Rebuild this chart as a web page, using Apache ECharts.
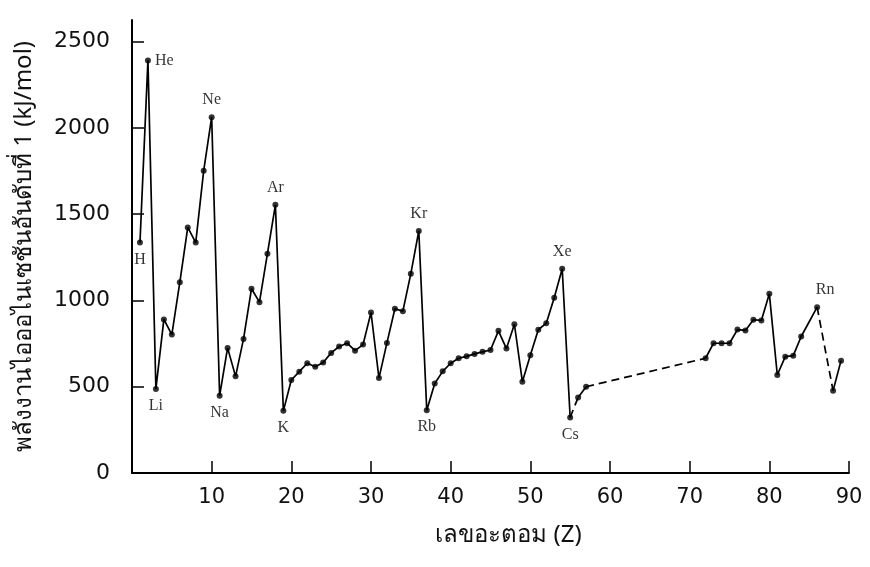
<!DOCTYPE html>
<html>
<head>
<meta charset="utf-8">
<script src="https://cdn.jsdelivr.net/npm/echarts@6/dist/echarts.min.js"></script>
<style>
html,body{margin:0;padding:0;background:#fff;}
#chart{width:870px;height:567px;}
</style>
</head>
<body>
<div id="chart"></div>
<script>
// Atomic numbers and first ionization energies (kJ/mol)
const atomicNumber = [1,2,3,4,5,6,7,8,9,10,11,12,13,14,15,16,17,18,19,20,
  21,22,23,24,25,26,27,28,29,30,31,32,33,34,35,36,37,38,39,40,
  41,42,43,44,45,46,47,48,49,50,51,52,53,54,55,56,57,
  72,73,74,75,76,77,78,79,80,81,82,83,84,86,88,89];
const ionizationEnergy = [1335,2391,487,890,802,1105,1423,1335,1752,2062,448,725,560,777,1068,990,1271,1554,360,539,
  587,636,616,640,696,733,752,709,744,930,550,754,952,938,1155,1403,364,519,589,636,
  665,676,690,702,713,824,721,862,529,682,830,868,1016,1184,322,438,500,
  665,752,752,752,831,826,888,884,1039,568,674,680,791,961,477,651];
// Links drawn dashed (start Z -> next point)
const dashedFrom = [55, 57, 86];
// Element names written on the chart
const peakNames = ['He','Ne','Ar','Kr','Xe','Rn'];
const peakZ = [2,10,18,36,54,86];
const troughNames = ['H','Li','Na','K','Rb','Cs'];
const troughZ = [1,3,11,19,37,55];
const xTicks = [10,20,30,40,50,60,70,80,90];
const yTicks = [0,500,1000,1500,2000,2500];

const pts = atomicNumber.map((z,i)=>[z, ionizationEnergy[i]]);
const solidSegs = [], dashSegs = [];
let cur = [pts[0]];
for (let i=1;i<pts.length;i++){
  const prevZ = pts[i-1][0];
  if (dashedFrom.includes(prevZ)) {
    solidSegs.push(cur);
    dashSegs.push([pts[i-1], pts[i]]);
    cur = [pts[i]];
  } else cur.push(pts[i]);
}
solidSegs.push(cur);

const INK = '#000';
const lineSeries = [];
solidSegs.forEach(seg=>{ if(seg.length>1) lineSeries.push({type:'line', data:seg, showSymbol:false, silent:true,
  lineStyle:{color:INK,width:1.7}, animation:false}); });
dashSegs.forEach(seg=>lineSeries.push({type:'line', data:seg, showSymbol:false, silent:true,
  lineStyle:{color:INK,width:1.7,type:[8,5]}, animation:false}));

const labelFont = {fontFamily:'"Liberation Serif", serif', fontSize:16, color:'#000'};
const dotData = pts.map(p=>{
  const z = p[0];
  const pi = peakZ.indexOf(z), ti = troughZ.indexOf(z);
  if (pi>=0) {
    return {value:p, label:Object.assign({show:true, formatter:peakNames[pi],
      position: z===2 ? 'right' : 'top', distance: z===2?4:6,
      offset: z===86 ? [8,0] : [0,0]}, labelFont)};
  }
  if (ti>=0) {
    return {value:p, label:Object.assign({show:true, formatter:troughNames[ti], position:'bottom', distance:6}, labelFont)};
  }
  return {value:p};
});

const chart = echarts.init(document.getElementById('chart'), null, {renderer:'canvas'});
chart.setOption({
  animation:false,
  backgroundColor:'#fff',
  grid:{left:132, right:21, top:20, bottom:94, containLabel:false},
  xAxis:{type:'value', min:0, max:90, interval:10,
    name:'เลขอะตอม (Z)', nameLocation:'middle', nameGap:50,
    nameTextStyle:{fontFamily:'"Noto Sans", "DejaVu Sans", sans-serif', fontSize:24, color:'#111', padding:[0,0,0,36]},
    axisLine:{show:true, onZero:false, lineStyle:{color:INK,width:1.8}},
    axisTick:{show:true, inside:true, length:12, lineStyle:{color:INK,width:1.5}, customValues:xTicks},
    axisLabel:{customValues:xTicks, margin:14, fontFamily:'"DejaVu Sans", sans-serif', fontSize:21, color:'#111',
      formatter:v=>String(v)},
    splitLine:{show:false}},
  yAxis:{type:'value', min:0, max:2625, interval:500,
    name:'พลังงานไอออไนเซชันอันดับที่ 1 (kJ/mol)', nameLocation:'middle', nameGap:96, nameRotate:90,
    nameTextStyle:{fontFamily:'"Noto Sans", "DejaVu Sans", sans-serif', fontSize:24, color:'#111'},
    axisLine:{show:true, lineStyle:{color:INK,width:2}},
    axisTick:{show:true, inside:true, length:12, lineStyle:{color:INK,width:1.5}, customValues:yTicks},
    axisLabel:{customValues:yTicks, margin:22, fontFamily:'"DejaVu Sans", sans-serif', fontSize:22, color:'#111',
      formatter:v=>String(v)},
    splitLine:{show:false}},
  series: lineSeries.concat([{type:'scatter', data:dotData, symbol:'circle', symbolSize:6,
    itemStyle:{color:INK}, silent:true, z:5}])
});
</script>
</body>
</html>
